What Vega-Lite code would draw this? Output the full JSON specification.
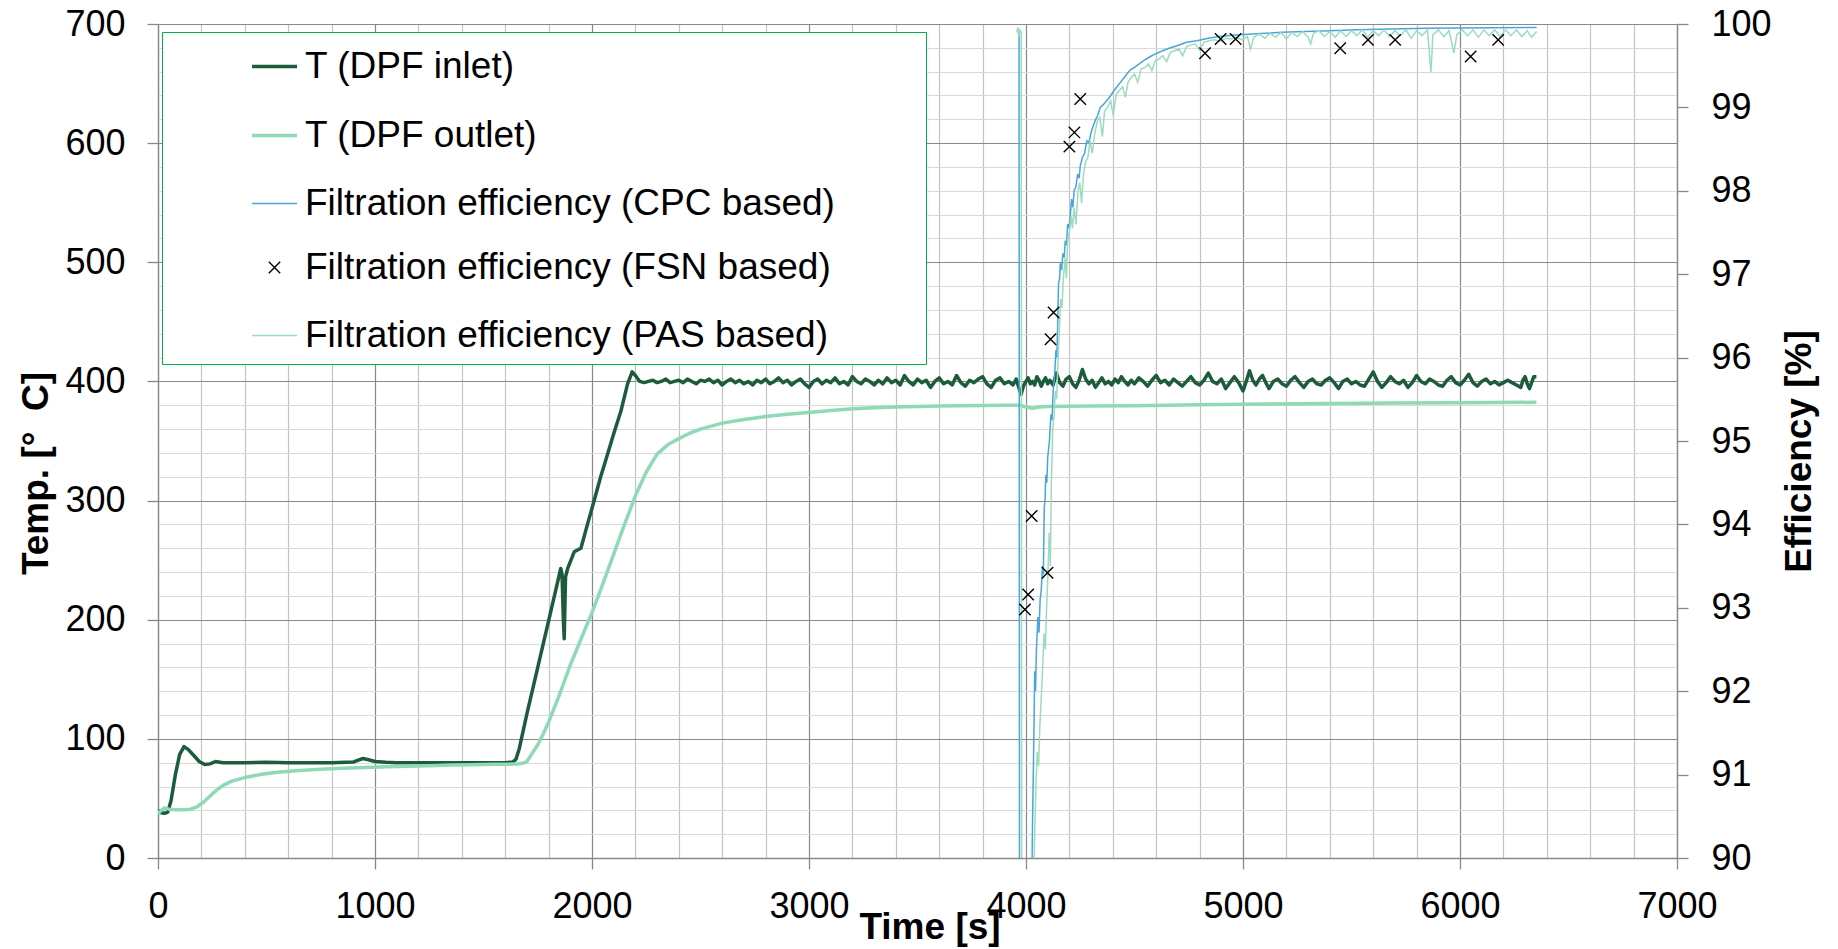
{
  "$schema": "https://vega.github.io/schema/vega-lite/v6.json",
  "width": 1519,
  "height": 834,
  "autosize": "none",
  "padding": {"left": 158, "top": 24, "right": 161, "bottom": 91},
  "background": "#ffffff",
  "config": {
    "font": "Liberation Sans",
    "view": {"stroke": null},
    "axis": {
      "labelFont": "Liberation Sans", "labelFontSize": 36, "labelColor": "#000000",
      "titleFont": "Liberation Sans", "titleFontSize": 37, "titleFontWeight": "bold", "titleColor": "#000000",
      "domainColor": "#898989", "domainWidth": 1.3, "tickColor": "#898989", "tickWidth": 1.3, "tickSize": 11,
      "labelFlush": false, "labelOverlap": false, "gridWidth": 1.2
    }
  },
  "datasets": {
    "temp": [
      {"s":"inlet","t":0,"v":40},{"s":"inlet","t":15,"v":38},{"s":"inlet","t":30,"v":37.5},{"s":"inlet","t":45,"v":38.5},{"s":"inlet","t":60,"v":48},{"s":"inlet","t":80,"v":70},{"s":"inlet","t":100,"v":87},{"s":"inlet","t":120,"v":93.5},{"s":"inlet","t":140,"v":91},{"s":"inlet","t":165,"v":86},{"s":"inlet","t":190,"v":81},{"s":"inlet","t":215,"v":78.5},{"s":"inlet","t":240,"v":79},{"s":"inlet","t":265,"v":81},{"s":"inlet","t":300,"v":80},{"s":"inlet","t":400,"v":80},{"s":"inlet","t":500,"v":80.3},{"s":"inlet","t":600,"v":80},{"s":"inlet","t":700,"v":80},{"s":"inlet","t":800,"v":80},{"s":"inlet","t":900,"v":80.5},{"s":"inlet","t":920,"v":82},{"s":"inlet","t":945,"v":83.5},{"s":"inlet","t":970,"v":82.5},{"s":"inlet","t":1000,"v":81},{"s":"inlet","t":1050,"v":80.3},{"s":"inlet","t":1100,"v":80},{"s":"inlet","t":1200,"v":80},{"s":"inlet","t":1300,"v":80},{"s":"inlet","t":1400,"v":80},{"s":"inlet","t":1500,"v":80},{"s":"inlet","t":1600,"v":80},{"s":"inlet","t":1635,"v":80.5},{"s":"inlet","t":1650,"v":83},{"s":"inlet","t":1665,"v":92},{"s":"inlet","t":1700,"v":121},{"s":"inlet","t":1750,"v":160},{"s":"inlet","t":1800,"v":199},{"s":"inlet","t":1856,"v":243},{"s":"inlet","t":1862,"v":238},{"s":"inlet","t":1868,"v":200},{"s":"inlet","t":1872,"v":184},{"s":"inlet","t":1878,"v":236},{"s":"inlet","t":1888,"v":243},{"s":"inlet","t":1918,"v":257},{"s":"inlet","t":1949,"v":260},{"s":"inlet","t":1979,"v":280},{"s":"inlet","t":2010,"v":300},{"s":"inlet","t":2040,"v":320},{"s":"inlet","t":2072,"v":339},{"s":"inlet","t":2100,"v":356},{"s":"inlet","t":2133,"v":375},{"s":"inlet","t":2164,"v":398},{"s":"inlet","t":2185,"v":408},{"s":"inlet","t":2200,"v":405},{"s":"inlet","t":2220,"v":400},
      {"s":"inlet","t":2240,"v":399},{"s":"inlet","t":2260,"v":400},{"s":"inlet","t":2280,"v":401},{"s":"inlet","t":2300,"v":399},{"s":"inlet","t":2320,"v":400},{"s":"inlet","t":2340,"v":402},{"s":"inlet","t":2360,"v":399},{"s":"inlet","t":2380,"v":400},{"s":"inlet","t":2400,"v":401},{"s":"inlet","t":2420,"v":399},{"s":"inlet","t":2440,"v":402},{"s":"inlet","t":2460,"v":400},{"s":"inlet","t":2480,"v":398},{"s":"inlet","t":2500,"v":401},{"s":"inlet","t":2520,"v":400},{"s":"inlet","t":2540,"v":402},{"s":"inlet","t":2560,"v":399},{"s":"inlet","t":2580,"v":401},{"s":"inlet","t":2600,"v":397},{"s":"inlet","t":2620,"v":400},{"s":"inlet","t":2640,"v":402},{"s":"inlet","t":2660,"v":399},{"s":"inlet","t":2680,"v":401},{"s":"inlet","t":2700,"v":398},{"s":"inlet","t":2720,"v":400},{"s":"inlet","t":2740,"v":397},{"s":"inlet","t":2760,"v":401},{"s":"inlet","t":2780,"v":399},{"s":"inlet","t":2800,"v":402},{"s":"inlet","t":2820,"v":398},{"s":"inlet","t":2840,"v":400},{"s":"inlet","t":2860,"v":403},{"s":"inlet","t":2880,"v":399},{"s":"inlet","t":2900,"v":401},{"s":"inlet","t":2920,"v":397},{"s":"inlet","t":2940,"v":400},{"s":"inlet","t":2960,"v":402},{"s":"inlet","t":2980,"v":398},{"s":"inlet","t":3000,"v":395},{"s":"inlet","t":3020,"v":400},{"s":"inlet","t":3040,"v":402},{"s":"inlet","t":3060,"v":398},{"s":"inlet","t":3080,"v":401},{"s":"inlet","t":3100,"v":399},{"s":"inlet","t":3120,"v":403},{"s":"inlet","t":3140,"v":398},{"s":"inlet","t":3160,"v":400},{"s":"inlet","t":3180,"v":397},{"s":"inlet","t":3200,"v":404},{"s":"inlet","t":3220,"v":400},{"s":"inlet","t":3240,"v":398},{"s":"inlet","t":3260,"v":402},{"s":"inlet","t":3280,"v":400},{"s":"inlet","t":3300,"v":397},{"s":"inlet","t":3320,"v":401},{"s":"inlet","t":3340,"v":398},{"s":"inlet","t":3360,"v":403},{"s":"inlet","t":3380,"v":399},{"s":"inlet","t":3400,"v":401},{"s":"inlet","t":3420,"v":397},{"s":"inlet","t":3440,"v":405},{"s":"inlet","t":3460,"v":400},{"s":"inlet","t":3480,"v":397},{"s":"inlet","t":3500,"v":402},{"s":"inlet","t":3520,"v":399},{"s":"inlet","t":3540,"v":401},{"s":"inlet","t":3560,"v":395},{"s":"inlet","t":3580,"v":400},{"s":"inlet","t":3600,"v":403},{"s":"inlet","t":3620,"v":398},{"s":"inlet","t":3640,"v":400},{"s":"inlet","t":3660,"v":397},{"s":"inlet","t":3680,"v":405},{"s":"inlet","t":3700,"v":399},{"s":"inlet","t":3720,"v":396},{"s":"inlet","t":3740,"v":401},{"s":"inlet","t":3760,"v":399},{"s":"inlet","t":3780,"v":402},{"s":"inlet","t":3800,"v":404},{"s":"inlet","t":3820,"v":398},{"s":"inlet","t":3840,"v":395},{"s":"inlet","t":3860,"v":401},{"s":"inlet","t":3880,"v":403},{"s":"inlet","t":3900,"v":398},{"s":"inlet","t":3920,"v":400},{"s":"inlet","t":3940,"v":397},{"s":"inlet","t":3955,"v":402},{"s":"inlet","t":3965,"v":396},{"s":"inlet","t":3977,"v":389},{"s":"inlet","t":3990,"v":397},{"s":"inlet","t":4000,"v":400},{"s":"inlet","t":4010,"v":403},{"s":"inlet","t":4020,"v":398},{"s":"inlet","t":4030,"v":400},{"s":"inlet","t":4040,"v":397},{"s":"inlet","t":4050,"v":404},{"s":"inlet","t":4060,"v":401},{"s":"inlet","t":4070,"v":396},{"s":"inlet","t":4080,"v":400},{"s":"inlet","t":4090,"v":403},{"s":"inlet","t":4100,"v":398},{"s":"inlet","t":4110,"v":401},{"s":"inlet","t":4125,"v":397},{"s":"inlet","t":4140,"v":407},{"s":"inlet","t":4155,"v":399},{"s":"inlet","t":4170,"v":396},{"s":"inlet","t":4185,"v":402},{"s":"inlet","t":4200,"v":404},{"s":"inlet","t":4215,"v":398},{"s":"inlet","t":4230,"v":395},{"s":"inlet","t":4245,"v":401},{"s":"inlet","t":4260,"v":410},{"s":"inlet","t":4275,"v":402},{"s":"inlet","t":4290,"v":398},{"s":"inlet","t":4305,"v":401},{"s":"inlet","t":4320,"v":395},{"s":"inlet","t":4335,"v":399},{"s":"inlet","t":4350,"v":403},{"s":"inlet","t":4365,"v":398},{"s":"inlet","t":4380,"v":400},{"s":"inlet","t":4395,"v":397},{"s":"inlet","t":4410,"v":402},{"s":"inlet","t":4425,"v":399},{"s":"inlet","t":4440,"v":404},{"s":"inlet","t":4455,"v":400},{"s":"inlet","t":4470,"v":397},{"s":"inlet","t":4485,"v":401},{"s":"inlet","t":4500,"v":398},{"s":"inlet","t":4520,"v":403},{"s":"inlet","t":4540,"v":400},{"s":"inlet","t":4560,"v":396},{"s":"inlet","t":4580,"v":401},{"s":"inlet","t":4600,"v":405},{"s":"inlet","t":4620,"v":399},{"s":"inlet","t":4640,"v":401},{"s":"inlet","t":4660,"v":397},{"s":"inlet","t":4680,"v":402},{"s":"inlet","t":4700,"v":399},{"s":"inlet","t":4720,"v":396},{"s":"inlet","t":4740,"v":400},{"s":"inlet","t":4760,"v":404},{"s":"inlet","t":4780,"v":399},{"s":"inlet","t":4800,"v":397},{"s":"inlet","t":4820,"v":401},{"s":"inlet","t":4840,"v":407},{"s":"inlet","t":4860,"v":400},{"s":"inlet","t":4880,"v":398},{"s":"inlet","t":4900,"v":402},{"s":"inlet","t":4920,"v":394},{"s":"inlet","t":4940,"v":399},{"s":"inlet","t":4960,"v":404},{"s":"inlet","t":4980,"v":399},{"s":"inlet","t":5000,"v":392},{"s":"inlet","t":5015,"v":400},{"s":"inlet","t":5030,"v":409},{"s":"inlet","t":5045,"v":401},{"s":"inlet","t":5060,"v":397},{"s":"inlet","t":5075,"v":402},{"s":"inlet","t":5090,"v":405},{"s":"inlet","t":5105,"v":399},{"s":"inlet","t":5120,"v":394},{"s":"inlet","t":5140,"v":400},{"s":"inlet","t":5160,"v":402},{"s":"inlet","t":5180,"v":398},{"s":"inlet","t":5200,"v":396},{"s":"inlet","t":5220,"v":401},{"s":"inlet","t":5240,"v":404},{"s":"inlet","t":5260,"v":399},{"s":"inlet","t":5280,"v":395},{"s":"inlet","t":5300,"v":400},{"s":"inlet","t":5320,"v":402},{"s":"inlet","t":5340,"v":398},{"s":"inlet","t":5360,"v":397},{"s":"inlet","t":5380,"v":401},{"s":"inlet","t":5400,"v":403},{"s":"inlet","t":5420,"v":399},{"s":"inlet","t":5440,"v":394},{"s":"inlet","t":5460,"v":400},{"s":"inlet","t":5480,"v":402},{"s":"inlet","t":5500,"v":398},{"s":"inlet","t":5520,"v":400},{"s":"inlet","t":5540,"v":397},{"s":"inlet","t":5560,"v":396},{"s":"inlet","t":5580,"v":402},{"s":"inlet","t":5600,"v":408},{"s":"inlet","t":5620,"v":400},{"s":"inlet","t":5640,"v":395},{"s":"inlet","t":5660,"v":399},{"s":"inlet","t":5680,"v":404},{"s":"inlet","t":5700,"v":400},{"s":"inlet","t":5720,"v":398},{"s":"inlet","t":5740,"v":401},{"s":"inlet","t":5760,"v":395},{"s":"inlet","t":5780,"v":399},{"s":"inlet","t":5800,"v":405},{"s":"inlet","t":5820,"v":400},{"s":"inlet","t":5840,"v":398},{"s":"inlet","t":5860,"v":402},{"s":"inlet","t":5880,"v":400},{"s":"inlet","t":5900,"v":397},{"s":"inlet","t":5920,"v":396},{"s":"inlet","t":5940,"v":401},{"s":"inlet","t":5960,"v":404},{"s":"inlet","t":5980,"v":399},{"s":"inlet","t":6000,"v":397},{"s":"inlet","t":6020,"v":401},{"s":"inlet","t":6040,"v":406},{"s":"inlet","t":6060,"v":399},{"s":"inlet","t":6080,"v":396},{"s":"inlet","t":6100,"v":400},{"s":"inlet","t":6120,"v":402},{"s":"inlet","t":6140,"v":398},{"s":"inlet","t":6160,"v":400},{"s":"inlet","t":6180,"v":397},{"s":"inlet","t":6200,"v":399},{"s":"inlet","t":6220,"v":401},{"s":"inlet","t":6240,"v":399},{"s":"inlet","t":6260,"v":397},{"s":"inlet","t":6280,"v":395},{"s":"inlet","t":6290,"v":401},{"s":"inlet","t":6300,"v":404},{"s":"inlet","t":6310,"v":398},{"s":"inlet","t":6320,"v":394},{"s":"inlet","t":6330,"v":399},{"s":"inlet","t":6340,"v":404},{"s":"inlet","t":6352,"v":404},
      {"s":"outlet","t":0,"v":37},{"s":"outlet","t":15,"v":40},{"s":"outlet","t":30,"v":42},{"s":"outlet","t":50,"v":41},{"s":"outlet","t":80,"v":40.5},{"s":"outlet","t":120,"v":40.5},{"s":"outlet","t":150,"v":41},{"s":"outlet","t":180,"v":43},{"s":"outlet","t":210,"v":47},{"s":"outlet","t":240,"v":52},{"s":"outlet","t":270,"v":57},{"s":"outlet","t":300,"v":61},{"s":"outlet","t":340,"v":64.5},{"s":"outlet","t":400,"v":67.5},{"s":"outlet","t":470,"v":70},{"s":"outlet","t":550,"v":72},{"s":"outlet","t":650,"v":73.5},{"s":"outlet","t":750,"v":74.5},{"s":"outlet","t":850,"v":75.3},{"s":"outlet","t":950,"v":76},{"s":"outlet","t":1050,"v":76.5},{"s":"outlet","t":1150,"v":77},{"s":"outlet","t":1250,"v":77.5},{"s":"outlet","t":1350,"v":78},{"s":"outlet","t":1450,"v":78.3},{"s":"outlet","t":1550,"v":78.6},{"s":"outlet","t":1650,"v":78.8},{"s":"outlet","t":1680,"v":79.5},{"s":"outlet","t":1700,"v":81},{"s":"outlet","t":1725,"v":88},{"s":"outlet","t":1750,"v":95},{"s":"outlet","t":1775,"v":104},{"s":"outlet","t":1800,"v":114},{"s":"outlet","t":1850,"v":137},{"s":"outlet","t":1900,"v":162},{"s":"outlet","t":1950,"v":184},{"s":"outlet","t":2000,"v":206},{"s":"outlet","t":2050,"v":230},{"s":"outlet","t":2100,"v":255},{"s":"outlet","t":2150,"v":280},{"s":"outlet","t":2200,"v":304},{"s":"outlet","t":2250,"v":324},{"s":"outlet","t":2300,"v":339},{"s":"outlet","t":2350,"v":347},{"s":"outlet","t":2400,"v":352},{"s":"outlet","t":2450,"v":356.5},{"s":"outlet","t":2500,"v":360},{"s":"outlet","t":2600,"v":365},{"s":"outlet","t":2700,"v":368},{"s":"outlet","t":2800,"v":370.5},{"s":"outlet","t":2900,"v":372.5},{"s":"outlet","t":3000,"v":374},{"s":"outlet","t":3100,"v":375.5},{"s":"outlet","t":3200,"v":377},{"s":"outlet","t":3300,"v":378},{"s":"outlet","t":3400,"v":378.5},{"s":"outlet","t":3500,"v":379},{"s":"outlet","t":3600,"v":379.3},{"s":"outlet","t":3700,"v":379.5},{"s":"outlet","t":3800,"v":379.7},{"s":"outlet","t":3900,"v":380},{"s":"outlet","t":3975,"v":380},{"s":"outlet","t":4000,"v":378.5},{"s":"outlet","t":4030,"v":377.5},{"s":"outlet","t":4060,"v":378.5},{"s":"outlet","t":4100,"v":379},{"s":"outlet","t":4300,"v":379.3},{"s":"outlet","t":4500,"v":379.6},{"s":"outlet","t":4800,"v":380.5},{"s":"outlet","t":5100,"v":381},{"s":"outlet","t":5400,"v":381.5},{"s":"outlet","t":5700,"v":381.8},{"s":"outlet","t":6000,"v":382},{"s":"outlet","t":6352,"v":382.5}
    ],
    "eff": [
      {"s":"cpc","t":3968,"v":99.92},{"s":"cpc","t":3972,"v":80},{"s":"cpc","t":4020,"v":80},{"s":"cpc","t":4026,"v":89.5},{"s":"cpc","t":4030,"v":90.4},{"s":"cpc","t":4034,"v":91.07},{"s":"cpc","t":4037,"v":91.6},{"s":"cpc","t":4040,"v":92.24},{"s":"cpc","t":4044,"v":92.0},{"s":"cpc","t":4048,"v":92.5},{"s":"cpc","t":4055,"v":92.89},{"s":"cpc","t":4060,"v":92.7},{"s":"cpc","t":4065,"v":93.1},{"s":"cpc","t":4070,"v":93.2},{"s":"cpc","t":4076,"v":93.5},{"s":"cpc","t":4080,"v":93.4},{"s":"cpc","t":4084,"v":94.2},{"s":"cpc","t":4088,"v":94.3},{"s":"cpc","t":4091,"v":94.59},{"s":"cpc","t":4096,"v":94.5},{"s":"cpc","t":4100,"v":94.8},{"s":"cpc","t":4108,"v":95.0},{"s":"cpc","t":4115,"v":95.32},{"s":"cpc","t":4120,"v":95.25},{"s":"cpc","t":4125,"v":95.6},{"s":"cpc","t":4132,"v":95.8},{"s":"cpc","t":4138,"v":96.09},{"s":"cpc","t":4142,"v":96.0},{"s":"cpc","t":4146,"v":96.4},{"s":"cpc","t":4150,"v":96.9},{"s":"cpc","t":4155,"v":96.95},{"s":"cpc","t":4158,"v":97.13},{"s":"cpc","t":4164,"v":97.05},{"s":"cpc","t":4170,"v":97.25},{"s":"cpc","t":4176,"v":97.2},{"s":"cpc","t":4181,"v":97.4},{"s":"cpc","t":4187,"v":97.35},{"s":"cpc","t":4192,"v":97.6},{"s":"cpc","t":4198,"v":97.55},{"s":"cpc","t":4204,"v":97.7},{"s":"cpc","t":4210,"v":97.9},{"s":"cpc","t":4216,"v":97.8},{"s":"cpc","t":4222,"v":98.0},{"s":"cpc","t":4230,"v":98.05},{"s":"cpc","t":4238,"v":98.2},{"s":"cpc","t":4245,"v":98.15},{"s":"cpc","t":4250,"v":98.3},{"s":"cpc","t":4260,"v":98.4},{"s":"cpc","t":4270,"v":98.45},{"s":"cpc","t":4280,"v":98.6},{"s":"cpc","t":4290,"v":98.58},{"s":"cpc","t":4300,"v":98.7},{"s":"cpc","t":4310,"v":98.78},{"s":"cpc","t":4320,"v":98.85},{"s":"cpc","t":4330,"v":98.9},{"s":"cpc","t":4342,"v":99.0},{"s":"cpc","t":4355,"v":99.03},{"s":"cpc","t":4365,"v":99.06},{"s":"cpc","t":4378,"v":99.1},{"s":"cpc","t":4390,"v":99.14},{"s":"cpc","t":4405,"v":99.2},{"s":"cpc","t":4420,"v":99.25},{"s":"cpc","t":4435,"v":99.3},{"s":"cpc","t":4450,"v":99.35},{"s":"cpc","t":4465,"v":99.4},{"s":"cpc","t":4481,"v":99.45},{"s":"cpc","t":4500,"v":99.48},{"s":"cpc","t":4520,"v":99.52},{"s":"cpc","t":4542,"v":99.56},{"s":"cpc","t":4573,"v":99.61},{"s":"cpc","t":4604,"v":99.65},{"s":"cpc","t":4630,"v":99.68},{"s":"cpc","t":4660,"v":99.71},{"s":"cpc","t":4696,"v":99.74},{"s":"cpc","t":4740,"v":99.78},{"s":"cpc","t":4788,"v":99.8},{"s":"cpc","t":4840,"v":99.83},{"s":"cpc","t":4889,"v":99.85},{"s":"cpc","t":4950,"v":99.865},{"s":"cpc","t":5003,"v":99.875},{"s":"cpc","t":5080,"v":99.885},{"s":"cpc","t":5180,"v":99.9},{"s":"cpc","t":5285,"v":99.91},{"s":"cpc","t":5400,"v":99.92},{"s":"cpc","t":5522,"v":99.93},{"s":"cpc","t":5680,"v":99.94},{"s":"cpc","t":5839,"v":99.95},{"s":"cpc","t":6000,"v":99.953},{"s":"cpc","t":6155,"v":99.956},{"s":"cpc","t":6353,"v":99.958},
      {"s":"pas","t":3958,"v":99.9},{"s":"pas","t":3962,"v":99.96},{"s":"pas","t":3966,"v":99.85},{"s":"pas","t":3972,"v":99.93},{"s":"pas","t":3978,"v":99.9},{"s":"pas","t":3982,"v":80},{"s":"pas","t":4028,"v":80},{"s":"pas","t":4035,"v":89.6},{"s":"pas","t":4040,"v":90.3},{"s":"pas","t":4046,"v":90.9},{"s":"pas","t":4052,"v":91.27},{"s":"pas","t":4058,"v":91.1},{"s":"pas","t":4064,"v":91.6},{"s":"pas","t":4070,"v":91.9},{"s":"pas","t":4077,"v":92.3},{"s":"pas","t":4083,"v":92.69},{"s":"pas","t":4089,"v":92.5},{"s":"pas","t":4095,"v":93.0},{"s":"pas","t":4101,"v":93.4},{"s":"pas","t":4107,"v":93.9},{"s":"pas","t":4112,"v":93.5},{"s":"pas","t":4117,"v":94.5},{"s":"pas","t":4123,"v":95.12},{"s":"pas","t":4129,"v":95.3},{"s":"pas","t":4135,"v":95.6},{"s":"pas","t":4141,"v":95.5},{"s":"pas","t":4148,"v":96.0},{"s":"pas","t":4154,"v":96.33},{"s":"pas","t":4160,"v":96.7},{"s":"pas","t":4166,"v":96.6},{"s":"pas","t":4172,"v":96.95},{"s":"pas","t":4180,"v":97.2},{"s":"pas","t":4186,"v":96.95},{"s":"pas","t":4192,"v":97.4},{"s":"pas","t":4200,"v":97.5},{"s":"pas","t":4208,"v":97.7},{"s":"pas","t":4214,"v":97.55},{"s":"pas","t":4222,"v":97.8},{"s":"pas","t":4230,"v":97.6},{"s":"pas","t":4240,"v":98.0},{"s":"pas","t":4248,"v":98.1},{"s":"pas","t":4256,"v":97.85},{"s":"pas","t":4265,"v":98.2},{"s":"pas","t":4275,"v":98.35},{"s":"pas","t":4285,"v":98.4},{"s":"pas","t":4295,"v":98.6},{"s":"pas","t":4305,"v":98.45},{"s":"pas","t":4318,"v":98.7},{"s":"pas","t":4330,"v":98.85},{"s":"pas","t":4340,"v":98.88},{"s":"pas","t":4352,"v":98.65},{"s":"pas","t":4362,"v":98.95},{"s":"pas","t":4375,"v":99.0},{"s":"pas","t":4390,"v":99.08},{"s":"pas","t":4402,"v":98.9},{"s":"pas","t":4415,"v":99.15},{"s":"pas","t":4430,"v":99.2},{"s":"pas","t":4445,"v":99.25},{"s":"pas","t":4458,"v":99.12},{"s":"pas","t":4470,"v":99.3},{"s":"pas","t":4485,"v":99.36},{"s":"pas","t":4500,"v":99.4},{"s":"pas","t":4515,"v":99.3},{"s":"pas","t":4530,"v":99.46},{"s":"pas","t":4548,"v":99.48},{"s":"pas","t":4565,"v":99.52},{"s":"pas","t":4580,"v":99.44},{"s":"pas","t":4595,"v":99.56},{"s":"pas","t":4612,"v":99.58},{"s":"pas","t":4630,"v":99.62},{"s":"pas","t":4648,"v":99.55},{"s":"pas","t":4665,"v":99.66},{"s":"pas","t":4685,"v":99.68},{"s":"pas","t":4705,"v":99.7},{"s":"pas","t":4722,"v":99.62},{"s":"pas","t":4740,"v":99.73},{"s":"pas","t":4760,"v":99.75},{"s":"pas","t":4780,"v":99.76},{"s":"pas","t":4800,"v":99.69},{"s":"pas","t":4820,"v":99.78},{"s":"pas","t":4845,"v":99.8},{"s":"pas","t":4870,"v":99.81},{"s":"pas","t":4895,"v":99.79},{"s":"pas","t":4920,"v":99.83},{"s":"pas","t":4945,"v":99.82},{"s":"pas","t":4970,"v":99.84},{"s":"pas","t":4995,"v":99.81},{"s":"pas","t":5020,"v":99.85},{"s":"pas","t":5035,"v":99.7},{"s":"pas","t":5050,"v":99.84},{"s":"pas","t":5075,"v":99.88},{"s":"pas","t":5100,"v":99.83},{"s":"pas","t":5125,"v":99.89},{"s":"pas","t":5150,"v":99.84},{"s":"pas","t":5175,"v":99.9},{"s":"pas","t":5200,"v":99.82},{"s":"pas","t":5225,"v":99.9},{"s":"pas","t":5250,"v":99.85},{"s":"pas","t":5275,"v":99.91},{"s":"pas","t":5300,"v":99.84},{"s":"pas","t":5312,"v":99.76},{"s":"pas","t":5325,"v":99.89},{"s":"pas","t":5350,"v":99.92},{"s":"pas","t":5375,"v":99.85},{"s":"pas","t":5400,"v":99.91},{"s":"pas","t":5425,"v":99.84},{"s":"pas","t":5450,"v":99.92},{"s":"pas","t":5475,"v":99.85},{"s":"pas","t":5500,"v":99.92},{"s":"pas","t":5525,"v":99.86},{"s":"pas","t":5550,"v":99.93},{"s":"pas","t":5575,"v":99.84},{"s":"pas","t":5600,"v":99.92},{"s":"pas","t":5625,"v":99.86},{"s":"pas","t":5650,"v":99.93},{"s":"pas","t":5675,"v":99.85},{"s":"pas","t":5700,"v":99.92},{"s":"pas","t":5725,"v":99.86},{"s":"pas","t":5750,"v":99.93},{"s":"pas","t":5775,"v":99.83},{"s":"pas","t":5800,"v":99.92},{"s":"pas","t":5825,"v":99.86},{"s":"pas","t":5850,"v":99.93},{"s":"pas","t":5866,"v":99.42},{"s":"pas","t":5875,"v":99.87},{"s":"pas","t":5900,"v":99.93},{"s":"pas","t":5925,"v":99.85},{"s":"pas","t":5950,"v":99.92},{"s":"pas","t":5972,"v":99.65},{"s":"pas","t":5985,"v":99.87},{"s":"pas","t":6010,"v":99.93},{"s":"pas","t":6035,"v":99.86},{"s":"pas","t":6060,"v":99.93},{"s":"pas","t":6085,"v":99.84},{"s":"pas","t":6110,"v":99.93},{"s":"pas","t":6135,"v":99.86},{"s":"pas","t":6160,"v":99.93},{"s":"pas","t":6185,"v":99.85},{"s":"pas","t":6210,"v":99.93},{"s":"pas","t":6235,"v":99.86},{"s":"pas","t":6260,"v":99.93},{"s":"pas","t":6285,"v":99.85},{"s":"pas","t":6310,"v":99.92},{"s":"pas","t":6330,"v":99.84},{"s":"pas","t":6353,"v":99.91}
    ],
    "fsn": [
      {"s":"fsn","t":3995,"v":92.98},{"s":"fsn","t":4010,"v":93.16},{"s":"fsn","t":4026,"v":94.1},{"s":"fsn","t":4099,"v":93.42},{"s":"fsn","t":4113,"v":96.22},{"s":"fsn","t":4127,"v":96.54},{"s":"fsn","t":4200,"v":98.53},{"s":"fsn","t":4223,"v":98.7},{"s":"fsn","t":4250,"v":99.1},{"s":"fsn","t":4825,"v":99.65},{"s":"fsn","t":4897,"v":99.82},{"s":"fsn","t":4966,"v":99.82},{"s":"fsn","t":5448,"v":99.71},{"s":"fsn","t":5576,"v":99.81},{"s":"fsn","t":5701,"v":99.81},{"s":"fsn","t":6049,"v":99.61},{"s":"fsn","t":6176,"v":99.81}
    ]
  },
  "encoding": {
    "x": {
      "field": "t", "type": "quantitative",
      "scale": {"domain": [0, 7000], "nice": false, "zero": false},
      "axis": {
        "values": [0,200,400,600,800,1000,1200,1400,1600,1800,2000,2200,2400,2600,2800,3000,3200,3400,3600,3800,4000,4200,4400,4600,4800,5000,5200,5400,5600,5800,6000,6200,6400,6600,6800,7000],
        "format": "d",
        "labelExpr": "datum.value % 1000 === 0 ? datum.label : ''",
        "labelPadding": 20,
        "tickOpacity": {"condition": {"test": "datum.value % 1000 === 0", "value": 1}, "value": 0},
        "grid": true,
        "gridColor": {"condition": {"test": "datum.value % 1000 === 0", "value": "#898989"}, "value": "#c4c4c4"},
        "title": "Time [s]",
        "titleX": 771.5, "titleY": 80, "titleBaseline": "alphabetic", "titleAlign": "center"
      }
    },
    "color": {
      "field": "s", "type": "nominal",
      "scale": {"domain": ["inlet","outlet","cpc","fsn","pas"], "range": ["#1c5c3c","#8fd9b6","#47a6dc","#000000","#9cdcbe"]},
      "legend": {
        "title": null, "orient": "none", "legendX": 4, "legendY": 8,
        "padding": 10, "symbolOffset": 78, "labelOffset": 6, "rowPadding": 26,
        "labelFont": "Liberation Sans", "labelFontSize": 37, "labelColor": "#000000", "labelLimit": 0,
        "strokeColor": "#00b050", "fillColor": "#ffffff",
        "symbolType": "stroke", "symbolSize": 2025, "symbolStrokeWidth": 1.5,
        "labelExpr": "(datum.label == 'inlet' ? 'T (DPF inlet)' : datum.label == 'outlet' ? 'T (DPF outlet)' : datum.label == 'cpc' ? 'Filtration efficiency (CPC based)' : datum.label == 'fsn' ? 'Filtration efficiency (FSN based)' : 'Filtration efficiency (PAS based)') + '\u2800\u2800\u2800'"
      }
    },
    "strokeWidth": {
      "field": "s", "type": "nominal",
      "scale": {"type": "ordinal", "domain": ["inlet","outlet","cpc","fsn","pas"], "range": [3.5, 3.5, 1.5, 1.4, 1.5]}
    }
  },
  "layer": [
    {
      "encoding": {
        "y": {
          "field": "v", "type": "quantitative",
          "scale": {"domain": [0, 700], "nice": false, "zero": false},
          "axis": {
            "orient": "left",
            "values": [0,20,40,60,80,100,120,140,160,180,200,220,240,260,280,300,320,340,360,380,400,420,440,460,480,500,520,540,560,580,600,620,640,660,680,700],
            "format": "d",
            "labelExpr": "datum.value % 100 === 0 ? datum.label : ''",
            "labelPadding": 22,
            "tickOpacity": {"condition": {"test": "datum.value % 100 === 0", "value": 1}, "value": 0},
            "grid": true,
            "gridColor": {"condition": {"test": "datum.value % 100 === 0", "value": "#898989"}, "value": "#dadada"},
            "title": "Temp. [°\u00a0 C]",
            "titleAngle": 270, "titleX": -111, "titleY": 449, "titleBaseline": "alphabetic", "titleAlign": "center"
          }
        }
      },
      "layer": [
        {
          "data": {"name": "temp"},
          "mark": {"type": "line", "clip": true, "strokeJoin": "round"}
        }
      ]
    },
    {
      "encoding": {
        "y": {
          "field": "v", "type": "quantitative",
          "scale": {"domain": [90, 100], "nice": false, "zero": false},
          "axis": {
            "orient": "right",
            "values": [90,91,92,93,94,95,96,97,98,99,100],
            "format": "d",
            "labelPadding": 23,
            "grid": false,
            "title": "Efficiency [%]",
            "titleAngle": 270, "titleX": 133.5, "titleY": 427, "titleBaseline": "alphabetic", "titleAlign": "center"
          }
        }
      },
      "layer": [
        {
          "data": {"name": "eff"},
          "mark": {"type": "line", "clip": true}
        },
        {
          "data": {"name": "fsn"},
          "mark": {"type": "point", "filled": false, "opacity": 1, "clip": true},
          "encoding": {
            "shape": {"field": "s", "type": "nominal", "scale": {"domain": ["inlet","outlet","cpc","fsn","pas"], "range": ["stroke","stroke","stroke","M-1,-1L1,1M1,-1L-1,1","stroke"]}},
            "size": {"field": "s", "type": "nominal", "scale": {"type": "ordinal", "domain": ["inlet","outlet","cpc","fsn","pas"], "range": [2025, 2025, 2025, 130, 2025]}}
          }
        }
      ]
    }
  ],
  "resolve": {"scale": {"y": "independent"}}
}
